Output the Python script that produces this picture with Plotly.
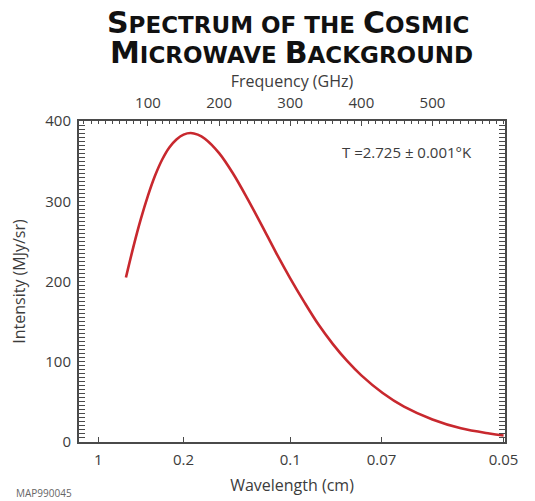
import plotly.graph_objects as go

# Data
freq_ghz = [69, 80, 90, 100, 110, 120, 130, 140, 150, 160, 170, 180, 200, 220, 240,
            260, 280, 300, 320, 340, 360, 380, 400, 430, 460, 500, 540, 580, 600]
intensity = [205, 245, 278, 307, 332, 352, 367, 377, 383, 385, 383, 378, 360, 334, 303,
             270, 236, 204, 174, 146, 122, 101, 83, 61, 44, 28, 17, 10.6, 8.2]

top_ticks = [100, 200, 300, 400, 500]
wl_labels = ["1", "0.2", "0.1", "0.07", "0.05"]
wl_freq = [30, 150, 300, 428.3, 600]  # GHz positions of the wavelength ticks
y_ticks = [0, 100, 200, 300, 400]

XR = [3, 602]
axis_col = "#4a4a4a"
txt_col = "#3c3c3c"
font_fam = "Open Sans, DejaVu Sans, sans-serif"

fig = go.Figure()
fig.add_trace(go.Scatter(x=freq_ghz, y=intensity, mode="lines",
                         line=dict(color="#c8282e", width=2.6, shape="spline"),
                         xaxis="x", yaxis="y", showlegend=False))
# invisible trace for the top (frequency) axis
fig.add_trace(go.Scatter(x=freq_ghz, y=intensity, mode="lines", line=dict(width=0),
                         xaxis="x2", yaxis="y", showlegend=False, hoverinfo="skip"))

fig.update_layout(
    width=527, height=493,
    margin=dict(l=71, r=30, t=113, b=59),
    paper_bgcolor="white", plot_bgcolor="white",
    font=dict(family=font_fam, color=txt_col, size=15),
    xaxis=dict(range=XR, tickmode="array", tickvals=wl_freq, ticktext=wl_labels,
               ticks="inside", ticklen=5, tickcolor=axis_col, tickwidth=1,
               showline=True, linecolor=axis_col, linewidth=2, mirror=False,
               showgrid=False, zeroline=False, automargin=False,
               ticklabelstandoff=3,
               title=dict(text="Wavelength (cm)", font=dict(size=16), standoff=12),
               tickfont=dict(size=15)),
    xaxis2=dict(range=XR, overlaying="x", side="top", tickmode="array", tickvals=top_ticks,
                ticks="inside", ticklen=5, tickcolor=axis_col,
                minor=dict(dtick=10, tick0=0, ticks="inside", ticklen=3, tickcolor=axis_col),
                showline=True, linecolor=axis_col, linewidth=2,
                showgrid=False, zeroline=False, automargin=False,
                ticklabelstandoff=5,
                title=dict(text="Frequency (GHz)", font=dict(size=16), standoff=0),
                tickfont=dict(size=15)),
    yaxis=dict(range=[0, 400], tickmode="array", tickvals=y_ticks,
               ticks="inside", ticklen=6, tickcolor=axis_col,
               minor=dict(dtick=5, tick0=0, ticks="inside", ticklen=3, tickcolor=axis_col),
               showline=True, linecolor=axis_col, linewidth=2, mirror="allticks",
               showgrid=False, zeroline=False, automargin=False,
               ticklabelstandoff=3,
               title=dict(text="Intensity (MJy/sr)", font=dict(size=16), standoff=18),
               tickfont=dict(size=15)),
)

def px2paper(px, py):
    return (px - 79) / 426.0, (442 - py) / 321.0

big = "font-size:30px"
x1, y1 = px2paper(288, 22)
fig.add_annotation(xref="paper", yref="paper", x=x1, y=y1, xanchor="center", yanchor="middle",
                   showarrow=False,
                   text=f"<b><span style='{big}'>S</span>PECTRUM OF THE <span style='{big}'>C</span>OSMIC</b>",
                   font=dict(family="DejaVu Sans", size=23, color="#111111"))
x2, y2 = px2paper(291, 52)
fig.add_annotation(xref="paper", yref="paper", x=x2, y=y2, xanchor="center", yanchor="middle",
                   showarrow=False,
                   text=f"<b><span style='{big}'>M</span>ICROWAVE <span style='{big}'>B</span>ACKGROUND</b>",
                   font=dict(family="DejaVu Sans", size=23, color="#111111"))

xt, yt = px2paper(340, 152)
fig.add_annotation(xref="paper", yref="paper", x=xt, y=yt, xanchor="left", yanchor="middle",
                   showarrow=False, text="T =2.725 ± 0.001°K",
                   font=dict(size=15, color=txt_col))

xm, ym = px2paper(14, 493)
fig.add_annotation(xref="paper", yref="paper", x=xm, y=ym, xanchor="left", yanchor="middle",
                   showarrow=False, text="MAP990045",
                   font=dict(size=10, color="#666666"))

fig.write_html("out.html")
